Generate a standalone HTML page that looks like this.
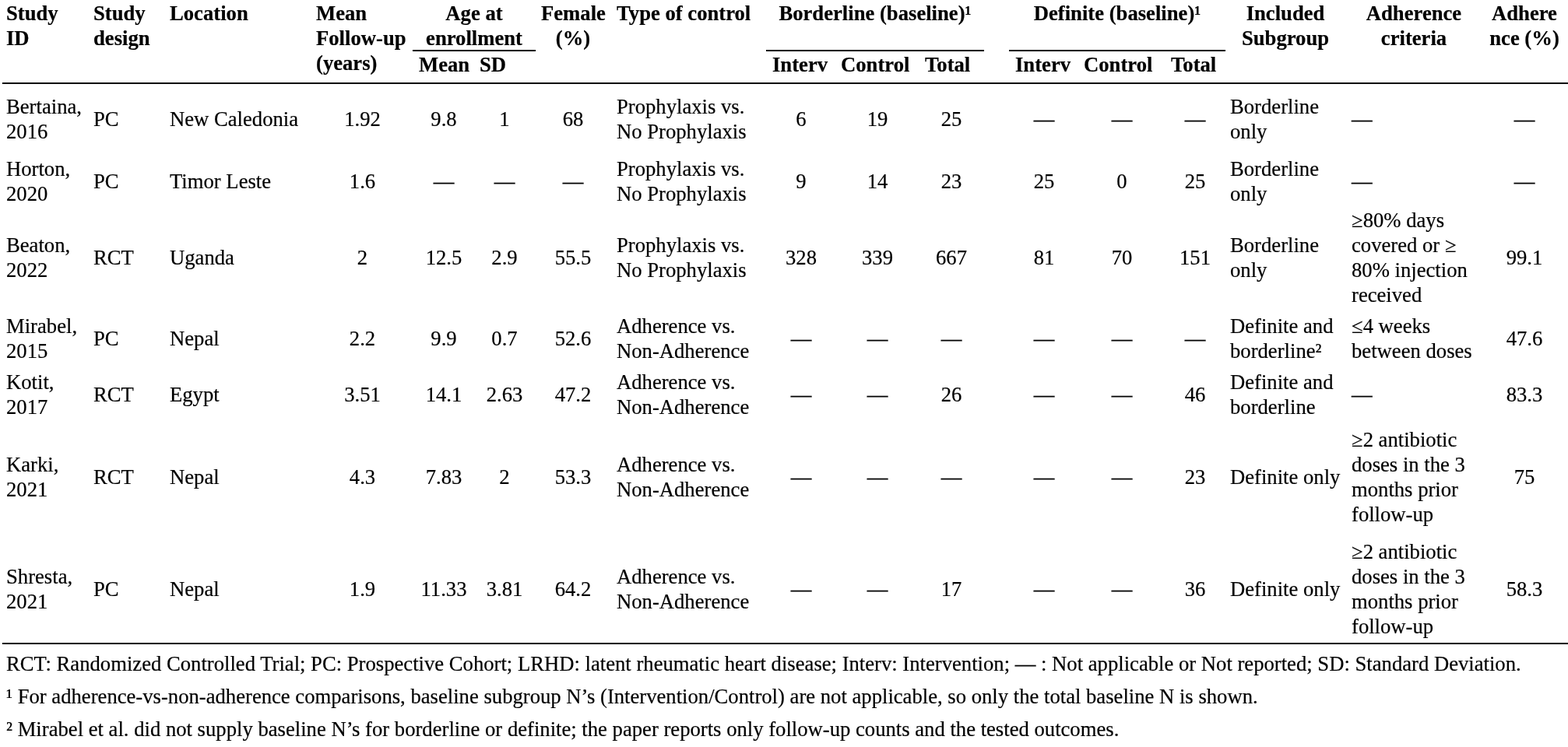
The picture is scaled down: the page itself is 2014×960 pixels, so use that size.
<!DOCTYPE html>
<html lang="en">
<head>
<meta charset="utf-8">
<title>Study characteristics</title>
<style>
html,body{margin:0;padding:0;background:#fff;}
body{width:2014px;height:960px;position:relative;overflow:hidden;font-family:"Liberation Serif","Times New Roman",Times,serif;font-size:26.667px;line-height:32px;color:#000;-webkit-text-stroke:0.2px #000;}
.tbl{position:absolute;left:0;top:0;width:2014px;height:830px;}
.row{position:absolute;left:0;width:2014px;height:128px;}
.cell{position:absolute;top:0;height:100%;box-sizing:border-box;padding:0 8px;display:flex;align-items:center;white-space:nowrap;}
.cell.l{justify-content:flex-start;text-align:left;}
.cell.c{justify-content:center;text-align:center;}
.hd{position:absolute;font-weight:bold;white-space:nowrap;box-sizing:border-box;padding:0 8px;}
.hd.c{text-align:center;}
.rule{position:absolute;background:#000;height:2px;}
.fn{position:absolute;left:8px;white-space:nowrap;}
.c1{left:0px;width:112px;}
.c2{left:112px;width:98px;}
.c3{left:210px;width:188px;}
.c4{left:399.5px;width:132.0px;}
.c5{left:531px;width:78px;}
.c6{left:608px;width:80px;}
.c7{left:688px;width:96px;}
.c8{left:784px;width:200px;}
.c9{left:985px;width:88px;}
.c10{left:1073px;width:108px;}
.c11{left:1180px;width:84px;}
.c12{left:1297px;width:88px;}
.c13{left:1385px;width:112px;}
.c14{left:1496px;width:78px;}
.c15{left:1572px;width:156px;}
.c16{left:1728px;width:176px;}
.c17{left:1904px;width:108px;}
.hc1{left:0px;width:112px;}
.hc2{left:112px;width:98px;}
.hc3{left:210px;width:188px;}
.hc4{left:398px;width:132px;}
.hc5{left:530px;width:78px;}
.hc6{left:608px;width:80px;}
.hc7{left:688px;width:96px;}
.hc8{left:784px;width:200px;}
.hc9{left:984px;width:88px;}
.hc10{left:1072px;width:108px;}
.hc11{left:1180px;width:84px;}
.hc12{left:1296px;width:88px;}
.hc13{left:1384px;width:112px;}
.hc14{left:1496px;width:78px;}
.hc15{left:1573px;width:156px;}
.hc16{left:1728px;width:176px;}
.hc17{left:1904px;width:108px;}
</style>
</head>
<body>
<div class="tbl" role="table">
<div class="hd hc1 l" style="top:1px;">Study<br>ID</div>
<div class="hd hc2 l" style="top:1px;">Study<br>design</div>
<div class="hd hc3 l" style="top:1px;">Location</div>
<div class="hd hc4 l" style="top:1px;">Mean<br>Follow-up<br>(years)</div>
<div class="hd c" style="top:1px;left:530px;width:158px;">Age at<br>enrollment</div>
<div class="hd hc5 l" style="top:67px;">Mean</div>
<div class="hd hc6 l" style="top:67px;">SD</div>
<div class="hd hc7 c" style="top:1px;"><span style="position:relative;left:-1px">Female</span><br>(%)</div>
<div class="hd hc8 l" style="top:1px;">Type of control</div>
<div class="hd c" style="top:1px;left:984px;width:280px;">Borderline (baseline)¹</div>
<div class="hd hc9 l" style="top:67px;">Interv</div>
<div class="hd hc10 l" style="top:67px;">Control</div>
<div class="hd hc11 l" style="top:67px;">Total</div>
<div class="hd c" style="top:1px;left:1296px;width:278px;">Definite (baseline)¹</div>
<div class="hd hc12 l" style="top:67px;">Interv</div>
<div class="hd hc13 l" style="top:67px;">Control</div>
<div class="hd hc14 l" style="top:67px;">Total</div>
<div class="hd hc15 c" style="top:1px;">Included<br>Subgroup</div>
<div class="hd hc16 c" style="top:1px;">Adherence<br>criteria</div>
<div class="hd hc17 c" style="top:1px;white-space:normal;word-break:break-all;">Adherence (%)</div>
<div class="rule" style="left:530px;width:158px;top:64px;"></div>
<div class="rule" style="left:984px;width:280px;top:64px;"></div>
<div class="rule" style="left:1296px;width:278px;top:64px;"></div>
<div class="rule" style="left:3px;width:2011px;top:106px;"></div>
<div class="rule" style="left:3px;width:2011px;top:826px;"></div>
<div class="row" role="row" style="top:89px;">
  <div class="cell c1 l" role="cell"><span>Bertaina,<br>2016</span></div>
  <div class="cell c2 l" role="cell"><span>PC</span></div>
  <div class="cell c3 l" role="cell"><span>New Caledonia</span></div>
  <div class="cell c4 c" role="cell"><span>1.92</span></div>
  <div class="cell c5 c" role="cell"><span>9.8</span></div>
  <div class="cell c6 c" role="cell"><span>1</span></div>
  <div class="cell c7 c" role="cell"><span>68</span></div>
  <div class="cell c8 l" role="cell"><span>Prophylaxis vs.<br>No Prophylaxis</span></div>
  <div class="cell c9 c" role="cell"><span>6</span></div>
  <div class="cell c10 c" role="cell"><span>19</span></div>
  <div class="cell c11 c" role="cell"><span>25</span></div>
  <div class="cell c12 c" role="cell"><span>—</span></div>
  <div class="cell c13 c" role="cell"><span>—</span></div>
  <div class="cell c14 c" role="cell"><span>—</span></div>
  <div class="cell c15 l" role="cell"><span>Borderline<br>only</span></div>
  <div class="cell c16 l" role="cell"><span>—</span></div>
  <div class="cell c17 c" role="cell"><span>—</span></div>
</div>
<div class="row" role="row" style="top:169px;">
  <div class="cell c1 l" role="cell"><span>Horton,<br>2020</span></div>
  <div class="cell c2 l" role="cell"><span>PC</span></div>
  <div class="cell c3 l" role="cell"><span>Timor Leste</span></div>
  <div class="cell c4 c" role="cell"><span>1.6</span></div>
  <div class="cell c5 c" role="cell"><span>—</span></div>
  <div class="cell c6 c" role="cell"><span>—</span></div>
  <div class="cell c7 c" role="cell"><span>—</span></div>
  <div class="cell c8 l" role="cell"><span>Prophylaxis vs.<br>No Prophylaxis</span></div>
  <div class="cell c9 c" role="cell"><span>9</span></div>
  <div class="cell c10 c" role="cell"><span>14</span></div>
  <div class="cell c11 c" role="cell"><span>23</span></div>
  <div class="cell c12 c" role="cell"><span>25</span></div>
  <div class="cell c13 c" role="cell"><span>0</span></div>
  <div class="cell c14 c" role="cell"><span>25</span></div>
  <div class="cell c15 l" role="cell"><span>Borderline<br>only</span></div>
  <div class="cell c16 l" role="cell"><span>—</span></div>
  <div class="cell c17 c" role="cell"><span>—</span></div>
</div>
<div class="row" role="row" style="top:267px;">
  <div class="cell c1 l" role="cell"><span>Beaton,<br>2022</span></div>
  <div class="cell c2 l" role="cell"><span>RCT</span></div>
  <div class="cell c3 l" role="cell"><span>Uganda</span></div>
  <div class="cell c4 c" role="cell"><span>2</span></div>
  <div class="cell c5 c" role="cell"><span>12.5</span></div>
  <div class="cell c6 c" role="cell"><span>2.9</span></div>
  <div class="cell c7 c" role="cell"><span>55.5</span></div>
  <div class="cell c8 l" role="cell"><span>Prophylaxis vs.<br>No Prophylaxis</span></div>
  <div class="cell c9 c" role="cell"><span>328</span></div>
  <div class="cell c10 c" role="cell"><span>339</span></div>
  <div class="cell c11 c" role="cell"><span>667</span></div>
  <div class="cell c12 c" role="cell"><span>81</span></div>
  <div class="cell c13 c" role="cell"><span>70</span></div>
  <div class="cell c14 c" role="cell"><span>151</span></div>
  <div class="cell c15 l" role="cell"><span>Borderline<br>only</span></div>
  <div class="cell c16 l" role="cell"><span>≥80% days<br>covered or ≥<br>80% injection<br>received</span></div>
  <div class="cell c17 c" role="cell"><span>99.1</span></div>
</div>
<div class="row" role="row" style="top:371px;">
  <div class="cell c1 l" role="cell"><span>Mirabel,<br>2015</span></div>
  <div class="cell c2 l" role="cell"><span>PC</span></div>
  <div class="cell c3 l" role="cell"><span>Nepal</span></div>
  <div class="cell c4 c" role="cell"><span>2.2</span></div>
  <div class="cell c5 c" role="cell"><span>9.9</span></div>
  <div class="cell c6 c" role="cell"><span>0.7</span></div>
  <div class="cell c7 c" role="cell"><span>52.6</span></div>
  <div class="cell c8 l" role="cell"><span>Adherence vs.<br>Non-Adherence</span></div>
  <div class="cell c9 c" role="cell"><span>—</span></div>
  <div class="cell c10 c" role="cell"><span>—</span></div>
  <div class="cell c11 c" role="cell"><span>—</span></div>
  <div class="cell c12 c" role="cell"><span>—</span></div>
  <div class="cell c13 c" role="cell"><span>—</span></div>
  <div class="cell c14 c" role="cell"><span>—</span></div>
  <div class="cell c15 l" role="cell"><span>Definite and<br>borderline²</span></div>
  <div class="cell c16 l" role="cell"><span>≤4 weeks<br>between doses</span></div>
  <div class="cell c17 c" role="cell"><span>47.6</span></div>
</div>
<div class="row" role="row" style="top:443px;">
  <div class="cell c1 l" role="cell"><span>Kotit,<br>2017</span></div>
  <div class="cell c2 l" role="cell"><span>RCT</span></div>
  <div class="cell c3 l" role="cell"><span>Egypt</span></div>
  <div class="cell c4 c" role="cell"><span>3.51</span></div>
  <div class="cell c5 c" role="cell"><span>14.1</span></div>
  <div class="cell c6 c" role="cell"><span>2.63</span></div>
  <div class="cell c7 c" role="cell"><span>47.2</span></div>
  <div class="cell c8 l" role="cell"><span>Adherence vs.<br>Non-Adherence</span></div>
  <div class="cell c9 c" role="cell"><span>—</span></div>
  <div class="cell c10 c" role="cell"><span>—</span></div>
  <div class="cell c11 c" role="cell"><span>26</span></div>
  <div class="cell c12 c" role="cell"><span>—</span></div>
  <div class="cell c13 c" role="cell"><span>—</span></div>
  <div class="cell c14 c" role="cell"><span>46</span></div>
  <div class="cell c15 l" role="cell"><span>Definite and<br>borderline</span></div>
  <div class="cell c16 l" role="cell"><span>—</span></div>
  <div class="cell c17 c" role="cell"><span>83.3</span></div>
</div>
<div class="row" role="row" style="top:549px;">
  <div class="cell c1 l" role="cell"><span>Karki,<br>2021</span></div>
  <div class="cell c2 l" role="cell"><span>RCT</span></div>
  <div class="cell c3 l" role="cell"><span>Nepal</span></div>
  <div class="cell c4 c" role="cell"><span>4.3</span></div>
  <div class="cell c5 c" role="cell"><span>7.83</span></div>
  <div class="cell c6 c" role="cell"><span>2</span></div>
  <div class="cell c7 c" role="cell"><span>53.3</span></div>
  <div class="cell c8 l" role="cell"><span>Adherence vs.<br>Non-Adherence</span></div>
  <div class="cell c9 c" role="cell"><span>—</span></div>
  <div class="cell c10 c" role="cell"><span>—</span></div>
  <div class="cell c11 c" role="cell"><span>—</span></div>
  <div class="cell c12 c" role="cell"><span>—</span></div>
  <div class="cell c13 c" role="cell"><span>—</span></div>
  <div class="cell c14 c" role="cell"><span>23</span></div>
  <div class="cell c15 l" role="cell"><span>Definite only</span></div>
  <div class="cell c16 l" role="cell"><span>≥2 antibiotic<br>doses in the 3<br>months prior<br>follow-up</span></div>
  <div class="cell c17 c" role="cell"><span>75</span></div>
</div>
<div class="row" role="row" style="top:693px;">
  <div class="cell c1 l" role="cell"><span>Shresta,<br>2021</span></div>
  <div class="cell c2 l" role="cell"><span>PC</span></div>
  <div class="cell c3 l" role="cell"><span>Nepal</span></div>
  <div class="cell c4 c" role="cell"><span>1.9</span></div>
  <div class="cell c5 c" role="cell"><span>11.33</span></div>
  <div class="cell c6 c" role="cell"><span>3.81</span></div>
  <div class="cell c7 c" role="cell"><span>64.2</span></div>
  <div class="cell c8 l" role="cell"><span>Adherence vs.<br>Non-Adherence</span></div>
  <div class="cell c9 c" role="cell"><span>—</span></div>
  <div class="cell c10 c" role="cell"><span>—</span></div>
  <div class="cell c11 c" role="cell"><span>17</span></div>
  <div class="cell c12 c" role="cell"><span>—</span></div>
  <div class="cell c13 c" role="cell"><span>—</span></div>
  <div class="cell c14 c" role="cell"><span>36</span></div>
  <div class="cell c15 l" role="cell"><span>Definite only</span></div>
  <div class="cell c16 l" role="cell"><span>≥2 antibiotic<br>doses in the 3<br>months prior<br>follow-up</span></div>
  <div class="cell c17 c" role="cell"><span>58.3</span></div>
</div>
</div>
<div class="fn" style="top:837px;">RCT: Randomized Controlled Trial; PC: Prospective Cohort; LRHD: latent rheumatic heart disease; Interv: Intervention; — : Not applicable or Not reported; SD: Standard Deviation.</div>
<div class="fn" style="top:879px;">¹ For adherence-vs-non-adherence comparisons, baseline subgroup N’s (Intervention/Control) are not applicable, so only the total baseline N is shown.</div>
<div class="fn" style="top:921px;">² Mirabel et al. did not supply baseline N’s for borderline or definite; the paper reports only follow-up counts and the tested outcomes.</div>
</body>
</html>
